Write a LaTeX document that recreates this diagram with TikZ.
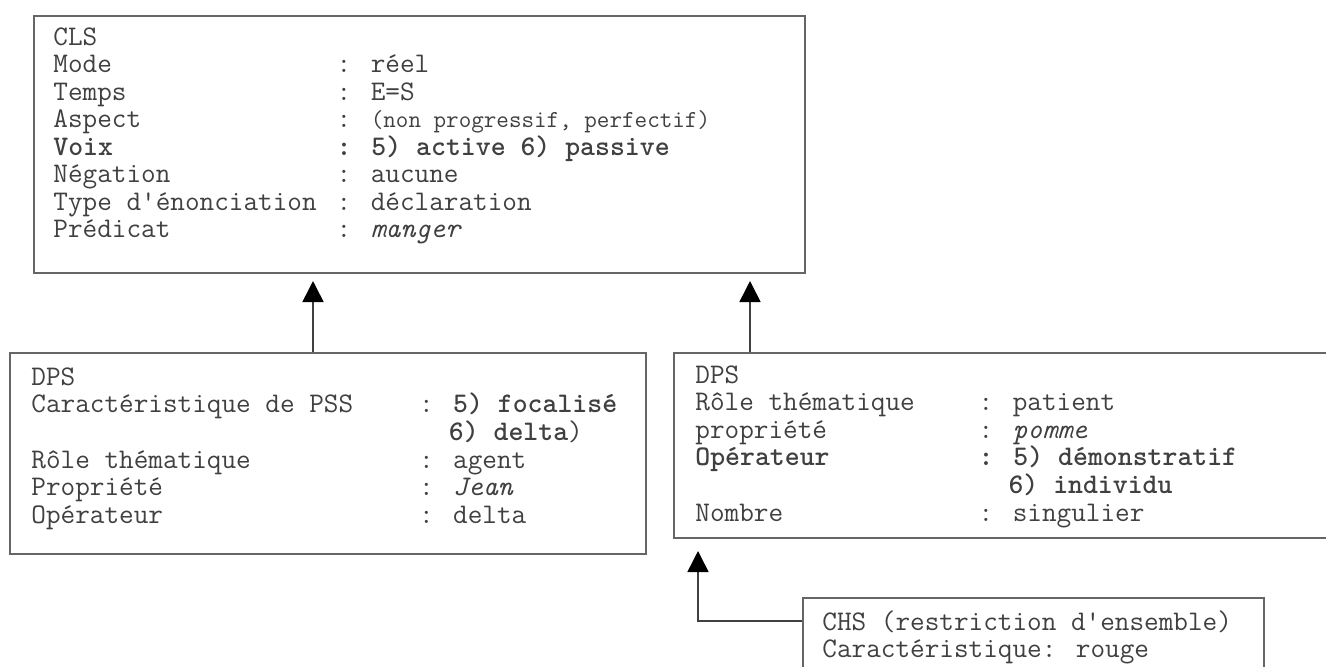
\documentclass[tikz,border=0pt]{standalone}
\usepackage{fontspec}
\usetikzlibrary{arrows.meta, calc}

\begin{document}
\begin{tikzpicture}[
x=0.5pt, y=-0.5pt,
box/.style={rectangle, draw=black!60, line width=1pt, anchor=north west, inner sep=0pt},
txt/.style={anchor=base west, inner sep=0pt, text=black!75,
    font=\ttfamily\fontsize{14.2}{13.75}\selectfont},
line/.style={draw=black!75, line width=0.8pt,
    -{Triangle[length=10.5pt, width=10.5pt, color=black]}}
]
\useasboundingbox (0,0) rectangle (1326,666);
\clip (0,0) rectangle (1326,666);

% boxes
\node [box, minimum width=385.5pt, minimum height=128.5pt] (cls) at (33,15) {};
\node [box, minimum width=318pt, minimum height=100.5pt] (dps-l) at (9,352) {};
\node [box, minimum width=340pt, minimum height=92.5pt] (dps-r) at (673,352) {};
\node [box, minimum width=230.5pt, minimum height=60pt] (chs) at (802,597) {};

% contents
\node [txt] (cls-txt) at ($(cls.north west)+(20,30)$) {%
\begin{tabular}[t]{@{}p{9.975em}@{}l@{}}
CLS & \\
Mode & : réel\\
Temps & : E=S\\
Aspect & : {\fontsize{12.2}{13.75}\selectfont(non progressif, perfectif)}\\
\textbf{Voix} & \textbf{: 5) active 6) passive}\\
Négation & : aucune\\
Type d'énonciation & : déclaration\\
Prédicat & : \textit{manger}
\end{tabular}};

\node [txt] (dps-l-txt) at ($(dps-l.north west)+(22,33)$) {%
\begin{tabular}[t]{@{}p{13.65em}@{}l@{}}
DPS & \\
Caractéristique de PSS & : \textbf{5) focalisé}\\
 & \hspace{1.05em}\textbf{6) delta})\\
Rôle thématique & : agent\\
Propriété & : \textit{Jean}\\
Opérateur & : delta
\end{tabular}};

\node [txt] (dps-r-txt) at ($(dps-r.north west)+(22,31)$) {%
\begin{tabular}[t]{@{}p{9.975em}@{}l@{}}
DPS & \\
Rôle thématique & : patient\\
propriété & : \textit{pomme}\\
\textbf{Opérateur} & \textbf{: 5) démonstratif}\\
 & \hspace{1.05em}\textbf{6) individu}\\
Nombre & : singulier
\end{tabular}};

\node [txt] (chs-txt) at ($(chs.north west)+(20,33)$) {%
\begin{tabular}[t]{@{}l@{}}
CHS (restriction d'ensemble)\\
Caractéristique: rouge
\end{tabular}};

% connectors
\coordinate (l-up) at ($(dps-l.north west)+(304,0)$);
\coordinate (r-up) at ($(dps-r.north west)+(77,0)$);
\coordinate (chs-in) at ($(chs.north west)+(0,24)$);
\coordinate (r-low) at ($(dps-r.south west)+(25,0)$);

\draw [line, shorten >=3.5pt] (l-up) -- (l-up |- cls.south);
\draw [line, shorten >=3.5pt] (r-up) -- (r-up |- cls.south);
\draw [line, shorten >=6pt] (chs-in) -| (r-low);
\end{tikzpicture}
\end{document}
